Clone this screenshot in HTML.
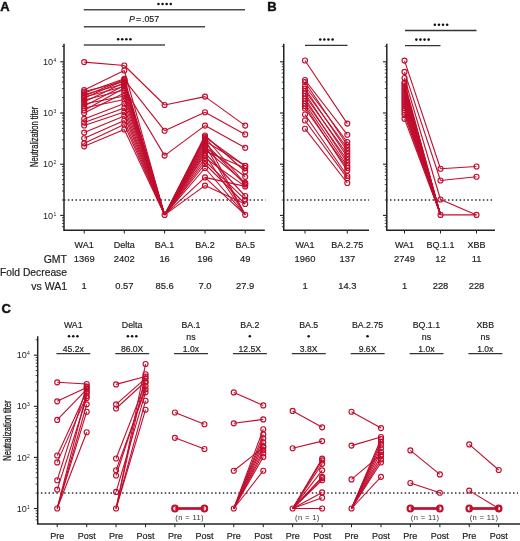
<!DOCTYPE html>
<html><head><meta charset="utf-8"><style>
html,body{margin:0;padding:0;background:#fff;overflow:hidden;width:520px;height:541px;}
svg{display:block;font-family:"Liberation Sans", sans-serif;will-change:transform;}
</style></head><body>
<svg width="520" height="541" viewBox="0 0 520 541">
<rect width="520" height="541" fill="#fff"/>
<text x="0.3" y="11.1" font-size="13" text-anchor="start" font-weight="bold" fill="#111" stroke="#111" stroke-width="0.45">A</text>
<text x="267.3" y="11.3" font-size="13" text-anchor="start" font-weight="bold" fill="#111" stroke="#111" stroke-width="0.45">B</text>
<text x="1.5" y="312.6" font-size="13" text-anchor="start" font-weight="bold" fill="#111" stroke="#111" stroke-width="0.45">C</text>
<line x1="64" y1="43.75" x2="64" y2="230.3" stroke="#222" stroke-width="1.5"/>
<line x1="62.0" y1="226.76" x2="64" y2="226.76" stroke="#222" stroke-width="0.85"/>
<line x1="62.0" y1="223.33" x2="64" y2="223.33" stroke="#222" stroke-width="0.85"/>
<line x1="62.0" y1="220.36" x2="64" y2="220.36" stroke="#222" stroke-width="0.85"/>
<line x1="62.0" y1="217.74" x2="64" y2="217.74" stroke="#222" stroke-width="0.85"/>
<line x1="60.2" y1="215.40" x2="64" y2="215.40" stroke="#222" stroke-width="1.1"/>
<line x1="62.0" y1="199.99" x2="64" y2="199.99" stroke="#222" stroke-width="0.85"/>
<line x1="62.0" y1="190.97" x2="64" y2="190.97" stroke="#222" stroke-width="0.85"/>
<line x1="62.0" y1="184.57" x2="64" y2="184.57" stroke="#222" stroke-width="0.85"/>
<line x1="62.0" y1="179.61" x2="64" y2="179.61" stroke="#222" stroke-width="0.85"/>
<line x1="62.0" y1="175.56" x2="64" y2="175.56" stroke="#222" stroke-width="0.85"/>
<line x1="62.0" y1="172.13" x2="64" y2="172.13" stroke="#222" stroke-width="0.85"/>
<line x1="62.0" y1="169.16" x2="64" y2="169.16" stroke="#222" stroke-width="0.85"/>
<line x1="62.0" y1="166.54" x2="64" y2="166.54" stroke="#222" stroke-width="0.85"/>
<line x1="60.2" y1="164.20" x2="64" y2="164.20" stroke="#222" stroke-width="1.1"/>
<line x1="62.0" y1="148.79" x2="64" y2="148.79" stroke="#222" stroke-width="0.85"/>
<line x1="62.0" y1="139.77" x2="64" y2="139.77" stroke="#222" stroke-width="0.85"/>
<line x1="62.0" y1="133.37" x2="64" y2="133.37" stroke="#222" stroke-width="0.85"/>
<line x1="62.0" y1="128.41" x2="64" y2="128.41" stroke="#222" stroke-width="0.85"/>
<line x1="62.0" y1="124.36" x2="64" y2="124.36" stroke="#222" stroke-width="0.85"/>
<line x1="62.0" y1="120.93" x2="64" y2="120.93" stroke="#222" stroke-width="0.85"/>
<line x1="62.0" y1="117.96" x2="64" y2="117.96" stroke="#222" stroke-width="0.85"/>
<line x1="62.0" y1="115.34" x2="64" y2="115.34" stroke="#222" stroke-width="0.85"/>
<line x1="60.2" y1="113.00" x2="64" y2="113.00" stroke="#222" stroke-width="1.1"/>
<line x1="62.0" y1="97.59" x2="64" y2="97.59" stroke="#222" stroke-width="0.85"/>
<line x1="62.0" y1="88.57" x2="64" y2="88.57" stroke="#222" stroke-width="0.85"/>
<line x1="62.0" y1="82.17" x2="64" y2="82.17" stroke="#222" stroke-width="0.85"/>
<line x1="62.0" y1="77.21" x2="64" y2="77.21" stroke="#222" stroke-width="0.85"/>
<line x1="62.0" y1="73.16" x2="64" y2="73.16" stroke="#222" stroke-width="0.85"/>
<line x1="62.0" y1="69.73" x2="64" y2="69.73" stroke="#222" stroke-width="0.85"/>
<line x1="62.0" y1="66.76" x2="64" y2="66.76" stroke="#222" stroke-width="0.85"/>
<line x1="62.0" y1="64.14" x2="64" y2="64.14" stroke="#222" stroke-width="0.85"/>
<line x1="60.2" y1="61.80" x2="64" y2="61.80" stroke="#222" stroke-width="1.1"/>
<line x1="62.0" y1="46.39" x2="64" y2="46.39" stroke="#222" stroke-width="0.85"/>
<text x="53.2" y="218.50" font-size="9.1" text-anchor="end" fill="#222">10</text>
<text x="53.4" y="215.50" font-size="5" text-anchor="start" fill="#222">1</text>
<text x="53.2" y="167.30" font-size="9.1" text-anchor="end" fill="#222">10</text>
<text x="53.4" y="164.30" font-size="5" text-anchor="start" fill="#222">2</text>
<text x="53.2" y="116.10" font-size="9.1" text-anchor="end" fill="#222">10</text>
<text x="53.4" y="113.10" font-size="5" text-anchor="start" fill="#222">3</text>
<text x="53.2" y="64.90" font-size="9.1" text-anchor="end" fill="#222">10</text>
<text x="53.4" y="61.90" font-size="5" text-anchor="start" fill="#222">4</text>
<line x1="63.25" y1="230.3" x2="264.8" y2="230.3" stroke="#222" stroke-width="1.5"/>
<line x1="84.2" y1="230.3" x2="84.2" y2="233.5" stroke="#222" stroke-width="1"/>
<line x1="124.3" y1="230.3" x2="124.3" y2="233.5" stroke="#222" stroke-width="1"/>
<line x1="164.6" y1="230.3" x2="164.6" y2="233.5" stroke="#222" stroke-width="1"/>
<line x1="205.0" y1="230.3" x2="205.0" y2="233.5" stroke="#222" stroke-width="1"/>
<line x1="245.2" y1="230.3" x2="245.2" y2="233.5" stroke="#222" stroke-width="1"/>
<line x1="63.9" y1="199.98726422200417" x2="265.5" y2="199.98726422200417" stroke="#2a2a2a" stroke-width="1.5" stroke-dasharray="1.5 2.37"/>
<line x1="84.2" y1="62.1" x2="124.3" y2="65.5" stroke="#c00d2d" stroke-width="1.1"/>
<line x1="124.3" y1="65.5" x2="164.6" y2="105.0" stroke="#c00d2d" stroke-width="1.1"/>
<line x1="164.6" y1="105.0" x2="205.0" y2="96.6" stroke="#c00d2d" stroke-width="1.1"/>
<line x1="205.0" y1="96.6" x2="245.2" y2="125.6" stroke="#c00d2d" stroke-width="1.1"/>
<line x1="84.2" y1="90.0" x2="124.3" y2="70.5" stroke="#c00d2d" stroke-width="1.1"/>
<line x1="124.3" y1="70.5" x2="164.6" y2="214.9" stroke="#c00d2d" stroke-width="1.1"/>
<line x1="164.6" y1="214.9" x2="205.0" y2="137.0" stroke="#c00d2d" stroke-width="1.1"/>
<line x1="205.0" y1="137.0" x2="245.2" y2="166.0" stroke="#c00d2d" stroke-width="1.1"/>
<line x1="84.2" y1="91.5" x2="124.3" y2="81.5" stroke="#c00d2d" stroke-width="1.1"/>
<line x1="124.3" y1="81.5" x2="164.6" y2="214.9" stroke="#c00d2d" stroke-width="1.1"/>
<line x1="164.6" y1="214.9" x2="205.0" y2="135.5" stroke="#c00d2d" stroke-width="1.1"/>
<line x1="205.0" y1="135.5" x2="245.2" y2="171.5" stroke="#c00d2d" stroke-width="1.1"/>
<line x1="84.2" y1="93" x2="124.3" y2="78.7" stroke="#c00d2d" stroke-width="1.1"/>
<line x1="124.3" y1="78.7" x2="164.6" y2="214.9" stroke="#c00d2d" stroke-width="1.1"/>
<line x1="164.6" y1="214.9" x2="205.0" y2="137.5" stroke="#c00d2d" stroke-width="1.1"/>
<line x1="205.0" y1="137.5" x2="245.2" y2="183.5" stroke="#c00d2d" stroke-width="1.1"/>
<line x1="84.2" y1="94.5" x2="124.3" y2="84" stroke="#c00d2d" stroke-width="1.1"/>
<line x1="124.3" y1="84" x2="164.6" y2="214.9" stroke="#c00d2d" stroke-width="1.1"/>
<line x1="164.6" y1="214.9" x2="205.0" y2="139" stroke="#c00d2d" stroke-width="1.1"/>
<line x1="205.0" y1="139" x2="245.2" y2="214.8" stroke="#c00d2d" stroke-width="1.1"/>
<line x1="84.2" y1="96" x2="124.3" y2="79.6" stroke="#c00d2d" stroke-width="1.1"/>
<line x1="124.3" y1="79.6" x2="164.6" y2="130.7" stroke="#c00d2d" stroke-width="1.1"/>
<line x1="164.6" y1="130.7" x2="205.0" y2="112.2" stroke="#c00d2d" stroke-width="1.1"/>
<line x1="205.0" y1="112.2" x2="245.2" y2="134.4" stroke="#c00d2d" stroke-width="1.1"/>
<line x1="84.2" y1="97" x2="124.3" y2="86.5" stroke="#c00d2d" stroke-width="1.1"/>
<line x1="124.3" y1="86.5" x2="164.6" y2="214.9" stroke="#c00d2d" stroke-width="1.1"/>
<line x1="164.6" y1="214.9" x2="205.0" y2="141" stroke="#c00d2d" stroke-width="1.1"/>
<line x1="205.0" y1="141" x2="245.2" y2="165.7" stroke="#c00d2d" stroke-width="1.1"/>
<line x1="84.2" y1="98" x2="124.3" y2="80.5" stroke="#c00d2d" stroke-width="1.1"/>
<line x1="124.3" y1="80.5" x2="164.6" y2="214.9" stroke="#c00d2d" stroke-width="1.1"/>
<line x1="164.6" y1="214.9" x2="205.0" y2="143" stroke="#c00d2d" stroke-width="1.1"/>
<line x1="205.0" y1="143" x2="245.2" y2="184.6" stroke="#c00d2d" stroke-width="1.1"/>
<line x1="84.2" y1="100" x2="124.3" y2="90" stroke="#c00d2d" stroke-width="1.1"/>
<line x1="124.3" y1="90" x2="164.6" y2="214.9" stroke="#c00d2d" stroke-width="1.1"/>
<line x1="164.6" y1="214.9" x2="205.0" y2="145" stroke="#c00d2d" stroke-width="1.1"/>
<line x1="205.0" y1="145" x2="245.2" y2="214.8" stroke="#c00d2d" stroke-width="1.1"/>
<line x1="84.2" y1="102" x2="124.3" y2="82.5" stroke="#c00d2d" stroke-width="1.1"/>
<line x1="124.3" y1="82.5" x2="164.6" y2="214.9" stroke="#c00d2d" stroke-width="1.1"/>
<line x1="164.6" y1="214.9" x2="205.0" y2="147" stroke="#c00d2d" stroke-width="1.1"/>
<line x1="205.0" y1="147" x2="245.2" y2="176.8" stroke="#c00d2d" stroke-width="1.1"/>
<line x1="84.2" y1="104" x2="124.3" y2="96" stroke="#c00d2d" stroke-width="1.1"/>
<line x1="124.3" y1="96" x2="164.6" y2="214.9" stroke="#c00d2d" stroke-width="1.1"/>
<line x1="164.6" y1="214.9" x2="205.0" y2="149" stroke="#c00d2d" stroke-width="1.1"/>
<line x1="205.0" y1="149" x2="245.2" y2="182.9" stroke="#c00d2d" stroke-width="1.1"/>
<line x1="84.2" y1="106" x2="124.3" y2="85.5" stroke="#c00d2d" stroke-width="1.1"/>
<line x1="124.3" y1="85.5" x2="164.6" y2="214.9" stroke="#c00d2d" stroke-width="1.1"/>
<line x1="164.6" y1="214.9" x2="205.0" y2="151" stroke="#c00d2d" stroke-width="1.1"/>
<line x1="205.0" y1="151" x2="245.2" y2="168" stroke="#c00d2d" stroke-width="1.1"/>
<line x1="84.2" y1="108" x2="124.3" y2="99.5" stroke="#c00d2d" stroke-width="1.1"/>
<line x1="124.3" y1="99.5" x2="164.6" y2="214.9" stroke="#c00d2d" stroke-width="1.1"/>
<line x1="164.6" y1="214.9" x2="205.0" y2="153" stroke="#c00d2d" stroke-width="1.1"/>
<line x1="205.0" y1="153" x2="245.2" y2="196" stroke="#c00d2d" stroke-width="1.1"/>
<line x1="84.2" y1="110.5" x2="124.3" y2="88" stroke="#c00d2d" stroke-width="1.1"/>
<line x1="124.3" y1="88" x2="164.6" y2="155.6" stroke="#c00d2d" stroke-width="1.1"/>
<line x1="164.6" y1="155.6" x2="205.0" y2="125.6" stroke="#c00d2d" stroke-width="1.1"/>
<line x1="205.0" y1="125.6" x2="245.2" y2="147.8" stroke="#c00d2d" stroke-width="1.1"/>
<line x1="84.2" y1="113" x2="124.3" y2="93" stroke="#c00d2d" stroke-width="1.1"/>
<line x1="124.3" y1="93" x2="164.6" y2="214.9" stroke="#c00d2d" stroke-width="1.1"/>
<line x1="164.6" y1="214.9" x2="205.0" y2="155" stroke="#c00d2d" stroke-width="1.1"/>
<line x1="205.0" y1="155" x2="245.2" y2="214.8" stroke="#c00d2d" stroke-width="1.1"/>
<line x1="84.2" y1="118.9" x2="124.3" y2="103.6" stroke="#c00d2d" stroke-width="1.1"/>
<line x1="124.3" y1="103.6" x2="164.6" y2="214.9" stroke="#c00d2d" stroke-width="1.1"/>
<line x1="164.6" y1="214.9" x2="205.0" y2="158" stroke="#c00d2d" stroke-width="1.1"/>
<line x1="205.0" y1="158" x2="245.2" y2="186.4" stroke="#c00d2d" stroke-width="1.1"/>
<line x1="84.2" y1="122.4" x2="124.3" y2="108" stroke="#c00d2d" stroke-width="1.1"/>
<line x1="124.3" y1="108" x2="164.6" y2="214.9" stroke="#c00d2d" stroke-width="1.1"/>
<line x1="164.6" y1="214.9" x2="205.0" y2="161" stroke="#c00d2d" stroke-width="1.1"/>
<line x1="205.0" y1="161" x2="245.2" y2="199.6" stroke="#c00d2d" stroke-width="1.1"/>
<line x1="84.2" y1="125.5" x2="124.3" y2="112" stroke="#c00d2d" stroke-width="1.1"/>
<line x1="124.3" y1="112" x2="164.6" y2="214.9" stroke="#c00d2d" stroke-width="1.1"/>
<line x1="164.6" y1="214.9" x2="205.0" y2="164" stroke="#c00d2d" stroke-width="1.1"/>
<line x1="205.0" y1="164" x2="245.2" y2="204" stroke="#c00d2d" stroke-width="1.1"/>
<line x1="84.2" y1="132.6" x2="124.3" y2="116" stroke="#c00d2d" stroke-width="1.1"/>
<line x1="124.3" y1="116" x2="164.6" y2="214.9" stroke="#c00d2d" stroke-width="1.1"/>
<line x1="164.6" y1="214.9" x2="205.0" y2="168" stroke="#c00d2d" stroke-width="1.1"/>
<line x1="205.0" y1="168" x2="245.2" y2="214.8" stroke="#c00d2d" stroke-width="1.1"/>
<line x1="84.2" y1="138.2" x2="124.3" y2="120.5" stroke="#c00d2d" stroke-width="1.1"/>
<line x1="124.3" y1="120.5" x2="164.6" y2="214.9" stroke="#c00d2d" stroke-width="1.1"/>
<line x1="164.6" y1="214.9" x2="205.0" y2="177.4" stroke="#c00d2d" stroke-width="1.1"/>
<line x1="205.0" y1="177.4" x2="245.2" y2="186.4" stroke="#c00d2d" stroke-width="1.1"/>
<line x1="84.2" y1="143.3" x2="124.3" y2="124.5" stroke="#c00d2d" stroke-width="1.1"/>
<line x1="124.3" y1="124.5" x2="164.6" y2="214.9" stroke="#c00d2d" stroke-width="1.1"/>
<line x1="205.0" y1="177.4" x2="245.2" y2="214.8" stroke="#c00d2d" stroke-width="1.1"/>
<line x1="84.2" y1="146.3" x2="124.3" y2="129.5" stroke="#c00d2d" stroke-width="1.1"/>
<line x1="124.3" y1="129.5" x2="164.6" y2="214.9" stroke="#c00d2d" stroke-width="1.1"/>
<line x1="164.6" y1="214.9" x2="205.0" y2="185.6" stroke="#c00d2d" stroke-width="1.1"/>
<line x1="205.0" y1="185.6" x2="245.2" y2="204" stroke="#c00d2d" stroke-width="1.1"/>
<circle cx="84.2" cy="62.1" r="2.5" fill="none" stroke="#c00d2d" stroke-width="1.15"/>
<circle cx="124.3" cy="65.5" r="2.5" fill="none" stroke="#c00d2d" stroke-width="1.15"/>
<circle cx="164.6" cy="105.0" r="2.5" fill="none" stroke="#c00d2d" stroke-width="1.15"/>
<circle cx="205.0" cy="96.6" r="2.5" fill="none" stroke="#c00d2d" stroke-width="1.15"/>
<circle cx="245.2" cy="125.6" r="2.5" fill="none" stroke="#c00d2d" stroke-width="1.15"/>
<circle cx="84.2" cy="90.0" r="2.5" fill="none" stroke="#c00d2d" stroke-width="1.15"/>
<circle cx="124.3" cy="70.5" r="2.5" fill="none" stroke="#c00d2d" stroke-width="1.15"/>
<circle cx="164.6" cy="214.9" r="2.5" fill="none" stroke="#c00d2d" stroke-width="1.15"/>
<circle cx="205.0" cy="137.0" r="2.5" fill="none" stroke="#c00d2d" stroke-width="1.15"/>
<circle cx="245.2" cy="166.0" r="2.5" fill="none" stroke="#c00d2d" stroke-width="1.15"/>
<circle cx="84.2" cy="91.5" r="2.5" fill="none" stroke="#c00d2d" stroke-width="1.15"/>
<circle cx="124.3" cy="81.5" r="2.5" fill="none" stroke="#c00d2d" stroke-width="1.15"/>
<circle cx="205.0" cy="135.5" r="2.5" fill="none" stroke="#c00d2d" stroke-width="1.15"/>
<circle cx="245.2" cy="171.5" r="2.5" fill="none" stroke="#c00d2d" stroke-width="1.15"/>
<circle cx="84.2" cy="93" r="2.5" fill="none" stroke="#c00d2d" stroke-width="1.15"/>
<circle cx="124.3" cy="78.7" r="2.5" fill="none" stroke="#c00d2d" stroke-width="1.15"/>
<circle cx="205.0" cy="137.5" r="2.5" fill="none" stroke="#c00d2d" stroke-width="1.15"/>
<circle cx="245.2" cy="183.5" r="2.5" fill="none" stroke="#c00d2d" stroke-width="1.15"/>
<circle cx="84.2" cy="94.5" r="2.5" fill="none" stroke="#c00d2d" stroke-width="1.15"/>
<circle cx="124.3" cy="84" r="2.5" fill="none" stroke="#c00d2d" stroke-width="1.15"/>
<circle cx="205.0" cy="139" r="2.5" fill="none" stroke="#c00d2d" stroke-width="1.15"/>
<circle cx="245.2" cy="214.8" r="2.5" fill="none" stroke="#c00d2d" stroke-width="1.15"/>
<circle cx="84.2" cy="96" r="2.5" fill="none" stroke="#c00d2d" stroke-width="1.15"/>
<circle cx="124.3" cy="79.6" r="2.5" fill="none" stroke="#c00d2d" stroke-width="1.15"/>
<circle cx="164.6" cy="130.7" r="2.5" fill="none" stroke="#c00d2d" stroke-width="1.15"/>
<circle cx="205.0" cy="112.2" r="2.5" fill="none" stroke="#c00d2d" stroke-width="1.15"/>
<circle cx="245.2" cy="134.4" r="2.5" fill="none" stroke="#c00d2d" stroke-width="1.15"/>
<circle cx="84.2" cy="97" r="2.5" fill="none" stroke="#c00d2d" stroke-width="1.15"/>
<circle cx="124.3" cy="86.5" r="2.5" fill="none" stroke="#c00d2d" stroke-width="1.15"/>
<circle cx="205.0" cy="141" r="2.5" fill="none" stroke="#c00d2d" stroke-width="1.15"/>
<circle cx="245.2" cy="165.7" r="2.5" fill="none" stroke="#c00d2d" stroke-width="1.15"/>
<circle cx="84.2" cy="98" r="2.5" fill="none" stroke="#c00d2d" stroke-width="1.15"/>
<circle cx="124.3" cy="80.5" r="2.5" fill="none" stroke="#c00d2d" stroke-width="1.15"/>
<circle cx="205.0" cy="143" r="2.5" fill="none" stroke="#c00d2d" stroke-width="1.15"/>
<circle cx="245.2" cy="184.6" r="2.5" fill="none" stroke="#c00d2d" stroke-width="1.15"/>
<circle cx="84.2" cy="100" r="2.5" fill="none" stroke="#c00d2d" stroke-width="1.15"/>
<circle cx="124.3" cy="90" r="2.5" fill="none" stroke="#c00d2d" stroke-width="1.15"/>
<circle cx="205.0" cy="145" r="2.5" fill="none" stroke="#c00d2d" stroke-width="1.15"/>
<circle cx="84.2" cy="102" r="2.5" fill="none" stroke="#c00d2d" stroke-width="1.15"/>
<circle cx="124.3" cy="82.5" r="2.5" fill="none" stroke="#c00d2d" stroke-width="1.15"/>
<circle cx="205.0" cy="147" r="2.5" fill="none" stroke="#c00d2d" stroke-width="1.15"/>
<circle cx="245.2" cy="176.8" r="2.5" fill="none" stroke="#c00d2d" stroke-width="1.15"/>
<circle cx="84.2" cy="104" r="2.5" fill="none" stroke="#c00d2d" stroke-width="1.15"/>
<circle cx="124.3" cy="96" r="2.5" fill="none" stroke="#c00d2d" stroke-width="1.15"/>
<circle cx="205.0" cy="149" r="2.5" fill="none" stroke="#c00d2d" stroke-width="1.15"/>
<circle cx="245.2" cy="182.9" r="2.5" fill="none" stroke="#c00d2d" stroke-width="1.15"/>
<circle cx="84.2" cy="106" r="2.5" fill="none" stroke="#c00d2d" stroke-width="1.15"/>
<circle cx="124.3" cy="85.5" r="2.5" fill="none" stroke="#c00d2d" stroke-width="1.15"/>
<circle cx="205.0" cy="151" r="2.5" fill="none" stroke="#c00d2d" stroke-width="1.15"/>
<circle cx="245.2" cy="168" r="2.5" fill="none" stroke="#c00d2d" stroke-width="1.15"/>
<circle cx="84.2" cy="108" r="2.5" fill="none" stroke="#c00d2d" stroke-width="1.15"/>
<circle cx="124.3" cy="99.5" r="2.5" fill="none" stroke="#c00d2d" stroke-width="1.15"/>
<circle cx="205.0" cy="153" r="2.5" fill="none" stroke="#c00d2d" stroke-width="1.15"/>
<circle cx="245.2" cy="196" r="2.5" fill="none" stroke="#c00d2d" stroke-width="1.15"/>
<circle cx="84.2" cy="110.5" r="2.5" fill="none" stroke="#c00d2d" stroke-width="1.15"/>
<circle cx="124.3" cy="88" r="2.5" fill="none" stroke="#c00d2d" stroke-width="1.15"/>
<circle cx="164.6" cy="155.6" r="2.5" fill="none" stroke="#c00d2d" stroke-width="1.15"/>
<circle cx="205.0" cy="125.6" r="2.5" fill="none" stroke="#c00d2d" stroke-width="1.15"/>
<circle cx="245.2" cy="147.8" r="2.5" fill="none" stroke="#c00d2d" stroke-width="1.15"/>
<circle cx="84.2" cy="113" r="2.5" fill="none" stroke="#c00d2d" stroke-width="1.15"/>
<circle cx="124.3" cy="93" r="2.5" fill="none" stroke="#c00d2d" stroke-width="1.15"/>
<circle cx="205.0" cy="155" r="2.5" fill="none" stroke="#c00d2d" stroke-width="1.15"/>
<circle cx="84.2" cy="118.9" r="2.5" fill="none" stroke="#c00d2d" stroke-width="1.15"/>
<circle cx="124.3" cy="103.6" r="2.5" fill="none" stroke="#c00d2d" stroke-width="1.15"/>
<circle cx="205.0" cy="158" r="2.5" fill="none" stroke="#c00d2d" stroke-width="1.15"/>
<circle cx="245.2" cy="186.4" r="2.5" fill="none" stroke="#c00d2d" stroke-width="1.15"/>
<circle cx="84.2" cy="122.4" r="2.5" fill="none" stroke="#c00d2d" stroke-width="1.15"/>
<circle cx="124.3" cy="108" r="2.5" fill="none" stroke="#c00d2d" stroke-width="1.15"/>
<circle cx="205.0" cy="161" r="2.5" fill="none" stroke="#c00d2d" stroke-width="1.15"/>
<circle cx="245.2" cy="199.6" r="2.5" fill="none" stroke="#c00d2d" stroke-width="1.15"/>
<circle cx="84.2" cy="125.5" r="2.5" fill="none" stroke="#c00d2d" stroke-width="1.15"/>
<circle cx="124.3" cy="112" r="2.5" fill="none" stroke="#c00d2d" stroke-width="1.15"/>
<circle cx="205.0" cy="164" r="2.5" fill="none" stroke="#c00d2d" stroke-width="1.15"/>
<circle cx="245.2" cy="204" r="2.5" fill="none" stroke="#c00d2d" stroke-width="1.15"/>
<circle cx="84.2" cy="132.6" r="2.5" fill="none" stroke="#c00d2d" stroke-width="1.15"/>
<circle cx="124.3" cy="116" r="2.5" fill="none" stroke="#c00d2d" stroke-width="1.15"/>
<circle cx="205.0" cy="168" r="2.5" fill="none" stroke="#c00d2d" stroke-width="1.15"/>
<circle cx="84.2" cy="138.2" r="2.5" fill="none" stroke="#c00d2d" stroke-width="1.15"/>
<circle cx="124.3" cy="120.5" r="2.5" fill="none" stroke="#c00d2d" stroke-width="1.15"/>
<circle cx="205.0" cy="177.4" r="2.5" fill="none" stroke="#c00d2d" stroke-width="1.15"/>
<circle cx="84.2" cy="143.3" r="2.5" fill="none" stroke="#c00d2d" stroke-width="1.15"/>
<circle cx="124.3" cy="124.5" r="2.5" fill="none" stroke="#c00d2d" stroke-width="1.15"/>
<circle cx="84.2" cy="146.3" r="2.5" fill="none" stroke="#c00d2d" stroke-width="1.15"/>
<circle cx="124.3" cy="129.5" r="2.5" fill="none" stroke="#c00d2d" stroke-width="1.15"/>
<circle cx="205.0" cy="185.6" r="2.5" fill="none" stroke="#c00d2d" stroke-width="1.15"/>
<line x1="83.8" y1="9.8" x2="245" y2="9.8" stroke="#4a4a4a" stroke-width="1.5"/>
<circle cx="158.45" cy="4.0" r="1.28" fill="#111"/>
<circle cx="162.55" cy="4.0" r="1.28" fill="#111"/>
<circle cx="166.65" cy="4.0" r="1.28" fill="#111"/>
<circle cx="170.75" cy="4.0" r="1.28" fill="#111"/>
<line x1="83.8" y1="26.8" x2="205" y2="26.8" stroke="#4a4a4a" stroke-width="1.5"/>
<text x="144.1" y="21.8" font-size="8.8" text-anchor="middle" fill="#222" stroke="#222" stroke-width="0.15"><tspan font-style="italic">P</tspan><tspan dx="1">=</tspan><tspan dx="1">.057</tspan></text>
<line x1="83.8" y1="45.0" x2="165" y2="45.0" stroke="#4a4a4a" stroke-width="1.5"/>
<circle cx="118.15" cy="39.2" r="1.28" fill="#111"/>
<circle cx="122.25" cy="39.2" r="1.28" fill="#111"/>
<circle cx="126.35" cy="39.2" r="1.28" fill="#111"/>
<circle cx="130.45" cy="39.2" r="1.28" fill="#111"/>
<text transform="translate(37.6,136.9) rotate(-90) scale(0.712,1)" font-size="10.5" text-anchor="middle" fill="#222" stroke="#222" stroke-width="0.3">Neutralization titer</text>
<text x="84.2" y="248.4" font-size="9" text-anchor="middle" font-weight="normal" fill="#222" stroke="#222" stroke-width="0.18">WA1</text>
<text x="84.2" y="261.9" font-size="9.4" text-anchor="middle" font-weight="normal" fill="#222" stroke="#222" stroke-width="0.18">1369</text>
<text x="84.2" y="288.5" font-size="9.4" text-anchor="middle" font-weight="normal" fill="#222" stroke="#222" stroke-width="0.18">1</text>
<text x="124.3" y="248.4" font-size="9" text-anchor="middle" font-weight="normal" fill="#222" stroke="#222" stroke-width="0.18">Delta</text>
<text x="124.3" y="261.9" font-size="9.4" text-anchor="middle" font-weight="normal" fill="#222" stroke="#222" stroke-width="0.18">2402</text>
<text x="124.3" y="288.5" font-size="9.4" text-anchor="middle" font-weight="normal" fill="#222" stroke="#222" stroke-width="0.18">0.57</text>
<text x="164.6" y="248.4" font-size="9" text-anchor="middle" font-weight="normal" fill="#222" stroke="#222" stroke-width="0.18">BA.1</text>
<text x="164.6" y="261.9" font-size="9.4" text-anchor="middle" font-weight="normal" fill="#222" stroke="#222" stroke-width="0.18">16</text>
<text x="164.6" y="288.5" font-size="9.4" text-anchor="middle" font-weight="normal" fill="#222" stroke="#222" stroke-width="0.18">85.6</text>
<text x="205.0" y="248.4" font-size="9" text-anchor="middle" font-weight="normal" fill="#222" stroke="#222" stroke-width="0.18">BA.2</text>
<text x="205.0" y="261.9" font-size="9.4" text-anchor="middle" font-weight="normal" fill="#222" stroke="#222" stroke-width="0.18">196</text>
<text x="205.0" y="288.5" font-size="9.4" text-anchor="middle" font-weight="normal" fill="#222" stroke="#222" stroke-width="0.18">7.0</text>
<text x="245.2" y="248.4" font-size="9" text-anchor="middle" font-weight="normal" fill="#222" stroke="#222" stroke-width="0.18">BA.5</text>
<text x="245.2" y="261.9" font-size="9.4" text-anchor="middle" font-weight="normal" fill="#222" stroke="#222" stroke-width="0.18">49</text>
<text x="245.2" y="288.5" font-size="9.4" text-anchor="middle" font-weight="normal" fill="#222" stroke="#222" stroke-width="0.18">27.9</text>
<text x="67" y="262.7" font-size="10.5" text-anchor="end" font-weight="normal" fill="#222" stroke="#222" stroke-width="0.18">GMT</text>
<text x="67" y="275.9" font-size="10.3" text-anchor="end" font-weight="normal" fill="#222" stroke="#222" stroke-width="0.18">Fold Decrease</text>
<text x="67" y="289.5" font-size="10.5" text-anchor="end" font-weight="normal" fill="#222" stroke="#222" stroke-width="0.18">vs WA1</text>
<line x1="283.75" y1="43.75" x2="283.75" y2="230.3" stroke="#222" stroke-width="1.5"/>
<line x1="281.75" y1="226.76" x2="283.75" y2="226.76" stroke="#222" stroke-width="0.85"/>
<line x1="281.75" y1="223.33" x2="283.75" y2="223.33" stroke="#222" stroke-width="0.85"/>
<line x1="281.75" y1="220.36" x2="283.75" y2="220.36" stroke="#222" stroke-width="0.85"/>
<line x1="281.75" y1="217.74" x2="283.75" y2="217.74" stroke="#222" stroke-width="0.85"/>
<line x1="279.95" y1="215.40" x2="283.75" y2="215.40" stroke="#222" stroke-width="1.1"/>
<line x1="281.75" y1="199.99" x2="283.75" y2="199.99" stroke="#222" stroke-width="0.85"/>
<line x1="281.75" y1="190.97" x2="283.75" y2="190.97" stroke="#222" stroke-width="0.85"/>
<line x1="281.75" y1="184.57" x2="283.75" y2="184.57" stroke="#222" stroke-width="0.85"/>
<line x1="281.75" y1="179.61" x2="283.75" y2="179.61" stroke="#222" stroke-width="0.85"/>
<line x1="281.75" y1="175.56" x2="283.75" y2="175.56" stroke="#222" stroke-width="0.85"/>
<line x1="281.75" y1="172.13" x2="283.75" y2="172.13" stroke="#222" stroke-width="0.85"/>
<line x1="281.75" y1="169.16" x2="283.75" y2="169.16" stroke="#222" stroke-width="0.85"/>
<line x1="281.75" y1="166.54" x2="283.75" y2="166.54" stroke="#222" stroke-width="0.85"/>
<line x1="279.95" y1="164.20" x2="283.75" y2="164.20" stroke="#222" stroke-width="1.1"/>
<line x1="281.75" y1="148.79" x2="283.75" y2="148.79" stroke="#222" stroke-width="0.85"/>
<line x1="281.75" y1="139.77" x2="283.75" y2="139.77" stroke="#222" stroke-width="0.85"/>
<line x1="281.75" y1="133.37" x2="283.75" y2="133.37" stroke="#222" stroke-width="0.85"/>
<line x1="281.75" y1="128.41" x2="283.75" y2="128.41" stroke="#222" stroke-width="0.85"/>
<line x1="281.75" y1="124.36" x2="283.75" y2="124.36" stroke="#222" stroke-width="0.85"/>
<line x1="281.75" y1="120.93" x2="283.75" y2="120.93" stroke="#222" stroke-width="0.85"/>
<line x1="281.75" y1="117.96" x2="283.75" y2="117.96" stroke="#222" stroke-width="0.85"/>
<line x1="281.75" y1="115.34" x2="283.75" y2="115.34" stroke="#222" stroke-width="0.85"/>
<line x1="279.95" y1="113.00" x2="283.75" y2="113.00" stroke="#222" stroke-width="1.1"/>
<line x1="281.75" y1="97.59" x2="283.75" y2="97.59" stroke="#222" stroke-width="0.85"/>
<line x1="281.75" y1="88.57" x2="283.75" y2="88.57" stroke="#222" stroke-width="0.85"/>
<line x1="281.75" y1="82.17" x2="283.75" y2="82.17" stroke="#222" stroke-width="0.85"/>
<line x1="281.75" y1="77.21" x2="283.75" y2="77.21" stroke="#222" stroke-width="0.85"/>
<line x1="281.75" y1="73.16" x2="283.75" y2="73.16" stroke="#222" stroke-width="0.85"/>
<line x1="281.75" y1="69.73" x2="283.75" y2="69.73" stroke="#222" stroke-width="0.85"/>
<line x1="281.75" y1="66.76" x2="283.75" y2="66.76" stroke="#222" stroke-width="0.85"/>
<line x1="281.75" y1="64.14" x2="283.75" y2="64.14" stroke="#222" stroke-width="0.85"/>
<line x1="279.95" y1="61.80" x2="283.75" y2="61.80" stroke="#222" stroke-width="1.1"/>
<line x1="281.75" y1="46.39" x2="283.75" y2="46.39" stroke="#222" stroke-width="0.85"/>
<line x1="283.0" y1="230.3" x2="369" y2="230.3" stroke="#222" stroke-width="1.5"/>
<line x1="305.0" y1="230.3" x2="305.0" y2="233.5" stroke="#222" stroke-width="1"/>
<line x1="347.3" y1="230.3" x2="347.3" y2="233.5" stroke="#222" stroke-width="1"/>
<line x1="283.0" y1="199.98726422200417" x2="369" y2="199.98726422200417" stroke="#2a2a2a" stroke-width="1.5" stroke-dasharray="1.5 2.37"/>
<line x1="305.0" y1="60.5" x2="347.3" y2="123.6" stroke="#c00d2d" stroke-width="1.1"/>
<line x1="305.0" y1="80" x2="347.3" y2="134.7" stroke="#c00d2d" stroke-width="1.1"/>
<line x1="305.0" y1="82" x2="347.3" y2="145" stroke="#c00d2d" stroke-width="1.1"/>
<line x1="305.0" y1="86" x2="347.3" y2="142" stroke="#c00d2d" stroke-width="1.1"/>
<line x1="305.0" y1="88.5" x2="347.3" y2="151" stroke="#c00d2d" stroke-width="1.1"/>
<line x1="305.0" y1="91" x2="347.3" y2="148" stroke="#c00d2d" stroke-width="1.1"/>
<line x1="305.0" y1="93.5" x2="347.3" y2="157" stroke="#c00d2d" stroke-width="1.1"/>
<line x1="305.0" y1="96" x2="347.3" y2="154" stroke="#c00d2d" stroke-width="1.1"/>
<line x1="305.0" y1="98.5" x2="347.3" y2="163" stroke="#c00d2d" stroke-width="1.1"/>
<line x1="305.0" y1="101" x2="347.3" y2="160" stroke="#c00d2d" stroke-width="1.1"/>
<line x1="305.0" y1="103.5" x2="347.3" y2="166" stroke="#c00d2d" stroke-width="1.1"/>
<line x1="305.0" y1="106" x2="347.3" y2="170.6" stroke="#c00d2d" stroke-width="1.1"/>
<line x1="305.0" y1="108.5" x2="347.3" y2="168" stroke="#c00d2d" stroke-width="1.1"/>
<line x1="305.0" y1="114.5" x2="347.3" y2="176" stroke="#c00d2d" stroke-width="1.1"/>
<line x1="305.0" y1="120.5" x2="347.3" y2="178.2" stroke="#c00d2d" stroke-width="1.1"/>
<line x1="305.0" y1="128.7" x2="347.3" y2="183" stroke="#c00d2d" stroke-width="1.1"/>
<circle cx="305.0" cy="60.5" r="2.5" fill="none" stroke="#c00d2d" stroke-width="1.15"/>
<circle cx="347.3" cy="123.6" r="2.5" fill="none" stroke="#c00d2d" stroke-width="1.15"/>
<circle cx="305.0" cy="80" r="2.5" fill="none" stroke="#c00d2d" stroke-width="1.15"/>
<circle cx="347.3" cy="134.7" r="2.5" fill="none" stroke="#c00d2d" stroke-width="1.15"/>
<circle cx="305.0" cy="82" r="2.5" fill="none" stroke="#c00d2d" stroke-width="1.15"/>
<circle cx="347.3" cy="145" r="2.5" fill="none" stroke="#c00d2d" stroke-width="1.15"/>
<circle cx="305.0" cy="86" r="2.5" fill="none" stroke="#c00d2d" stroke-width="1.15"/>
<circle cx="347.3" cy="142" r="2.5" fill="none" stroke="#c00d2d" stroke-width="1.15"/>
<circle cx="305.0" cy="88.5" r="2.5" fill="none" stroke="#c00d2d" stroke-width="1.15"/>
<circle cx="347.3" cy="151" r="2.5" fill="none" stroke="#c00d2d" stroke-width="1.15"/>
<circle cx="305.0" cy="91" r="2.5" fill="none" stroke="#c00d2d" stroke-width="1.15"/>
<circle cx="347.3" cy="148" r="2.5" fill="none" stroke="#c00d2d" stroke-width="1.15"/>
<circle cx="305.0" cy="93.5" r="2.5" fill="none" stroke="#c00d2d" stroke-width="1.15"/>
<circle cx="347.3" cy="157" r="2.5" fill="none" stroke="#c00d2d" stroke-width="1.15"/>
<circle cx="305.0" cy="96" r="2.5" fill="none" stroke="#c00d2d" stroke-width="1.15"/>
<circle cx="347.3" cy="154" r="2.5" fill="none" stroke="#c00d2d" stroke-width="1.15"/>
<circle cx="305.0" cy="98.5" r="2.5" fill="none" stroke="#c00d2d" stroke-width="1.15"/>
<circle cx="347.3" cy="163" r="2.5" fill="none" stroke="#c00d2d" stroke-width="1.15"/>
<circle cx="305.0" cy="101" r="2.5" fill="none" stroke="#c00d2d" stroke-width="1.15"/>
<circle cx="347.3" cy="160" r="2.5" fill="none" stroke="#c00d2d" stroke-width="1.15"/>
<circle cx="305.0" cy="103.5" r="2.5" fill="none" stroke="#c00d2d" stroke-width="1.15"/>
<circle cx="347.3" cy="166" r="2.5" fill="none" stroke="#c00d2d" stroke-width="1.15"/>
<circle cx="305.0" cy="106" r="2.5" fill="none" stroke="#c00d2d" stroke-width="1.15"/>
<circle cx="347.3" cy="170.6" r="2.5" fill="none" stroke="#c00d2d" stroke-width="1.15"/>
<circle cx="305.0" cy="108.5" r="2.5" fill="none" stroke="#c00d2d" stroke-width="1.15"/>
<circle cx="347.3" cy="168" r="2.5" fill="none" stroke="#c00d2d" stroke-width="1.15"/>
<circle cx="305.0" cy="114.5" r="2.5" fill="none" stroke="#c00d2d" stroke-width="1.15"/>
<circle cx="347.3" cy="176" r="2.5" fill="none" stroke="#c00d2d" stroke-width="1.15"/>
<circle cx="305.0" cy="120.5" r="2.5" fill="none" stroke="#c00d2d" stroke-width="1.15"/>
<circle cx="347.3" cy="178.2" r="2.5" fill="none" stroke="#c00d2d" stroke-width="1.15"/>
<circle cx="305.0" cy="128.7" r="2.5" fill="none" stroke="#c00d2d" stroke-width="1.15"/>
<circle cx="347.3" cy="183" r="2.5" fill="none" stroke="#c00d2d" stroke-width="1.15"/>
<line x1="305" y1="45.4" x2="347.5" y2="45.4" stroke="#333" stroke-width="1.4"/>
<circle cx="320.25" cy="39.5" r="1.28" fill="#111"/>
<circle cx="324.35" cy="39.5" r="1.28" fill="#111"/>
<circle cx="328.45" cy="39.5" r="1.28" fill="#111"/>
<circle cx="332.55" cy="39.5" r="1.28" fill="#111"/>
<line x1="386.8" y1="43.75" x2="386.8" y2="230.3" stroke="#222" stroke-width="1.5"/>
<line x1="384.8" y1="226.76" x2="386.8" y2="226.76" stroke="#222" stroke-width="0.85"/>
<line x1="384.8" y1="223.33" x2="386.8" y2="223.33" stroke="#222" stroke-width="0.85"/>
<line x1="384.8" y1="220.36" x2="386.8" y2="220.36" stroke="#222" stroke-width="0.85"/>
<line x1="384.8" y1="217.74" x2="386.8" y2="217.74" stroke="#222" stroke-width="0.85"/>
<line x1="383.0" y1="215.40" x2="386.8" y2="215.40" stroke="#222" stroke-width="1.1"/>
<line x1="384.8" y1="199.99" x2="386.8" y2="199.99" stroke="#222" stroke-width="0.85"/>
<line x1="384.8" y1="190.97" x2="386.8" y2="190.97" stroke="#222" stroke-width="0.85"/>
<line x1="384.8" y1="184.57" x2="386.8" y2="184.57" stroke="#222" stroke-width="0.85"/>
<line x1="384.8" y1="179.61" x2="386.8" y2="179.61" stroke="#222" stroke-width="0.85"/>
<line x1="384.8" y1="175.56" x2="386.8" y2="175.56" stroke="#222" stroke-width="0.85"/>
<line x1="384.8" y1="172.13" x2="386.8" y2="172.13" stroke="#222" stroke-width="0.85"/>
<line x1="384.8" y1="169.16" x2="386.8" y2="169.16" stroke="#222" stroke-width="0.85"/>
<line x1="384.8" y1="166.54" x2="386.8" y2="166.54" stroke="#222" stroke-width="0.85"/>
<line x1="383.0" y1="164.20" x2="386.8" y2="164.20" stroke="#222" stroke-width="1.1"/>
<line x1="384.8" y1="148.79" x2="386.8" y2="148.79" stroke="#222" stroke-width="0.85"/>
<line x1="384.8" y1="139.77" x2="386.8" y2="139.77" stroke="#222" stroke-width="0.85"/>
<line x1="384.8" y1="133.37" x2="386.8" y2="133.37" stroke="#222" stroke-width="0.85"/>
<line x1="384.8" y1="128.41" x2="386.8" y2="128.41" stroke="#222" stroke-width="0.85"/>
<line x1="384.8" y1="124.36" x2="386.8" y2="124.36" stroke="#222" stroke-width="0.85"/>
<line x1="384.8" y1="120.93" x2="386.8" y2="120.93" stroke="#222" stroke-width="0.85"/>
<line x1="384.8" y1="117.96" x2="386.8" y2="117.96" stroke="#222" stroke-width="0.85"/>
<line x1="384.8" y1="115.34" x2="386.8" y2="115.34" stroke="#222" stroke-width="0.85"/>
<line x1="383.0" y1="113.00" x2="386.8" y2="113.00" stroke="#222" stroke-width="1.1"/>
<line x1="384.8" y1="97.59" x2="386.8" y2="97.59" stroke="#222" stroke-width="0.85"/>
<line x1="384.8" y1="88.57" x2="386.8" y2="88.57" stroke="#222" stroke-width="0.85"/>
<line x1="384.8" y1="82.17" x2="386.8" y2="82.17" stroke="#222" stroke-width="0.85"/>
<line x1="384.8" y1="77.21" x2="386.8" y2="77.21" stroke="#222" stroke-width="0.85"/>
<line x1="384.8" y1="73.16" x2="386.8" y2="73.16" stroke="#222" stroke-width="0.85"/>
<line x1="384.8" y1="69.73" x2="386.8" y2="69.73" stroke="#222" stroke-width="0.85"/>
<line x1="384.8" y1="66.76" x2="386.8" y2="66.76" stroke="#222" stroke-width="0.85"/>
<line x1="384.8" y1="64.14" x2="386.8" y2="64.14" stroke="#222" stroke-width="0.85"/>
<line x1="383.0" y1="61.80" x2="386.8" y2="61.80" stroke="#222" stroke-width="1.1"/>
<line x1="384.8" y1="46.39" x2="386.8" y2="46.39" stroke="#222" stroke-width="0.85"/>
<line x1="386.05" y1="230.3" x2="495" y2="230.3" stroke="#222" stroke-width="1.5"/>
<line x1="404.5" y1="230.3" x2="404.5" y2="233.5" stroke="#222" stroke-width="1"/>
<line x1="440.5" y1="230.3" x2="440.5" y2="233.5" stroke="#222" stroke-width="1"/>
<line x1="476.5" y1="230.3" x2="476.5" y2="233.5" stroke="#222" stroke-width="1"/>
<line x1="386.1" y1="199.98726422200417" x2="493" y2="199.98726422200417" stroke="#2a2a2a" stroke-width="1.5" stroke-dasharray="1.5 2.37"/>
<line x1="404.5" y1="60.6" x2="440.5" y2="168.75" stroke="#c00d2d" stroke-width="1.1"/>
<line x1="440.5" y1="168.75" x2="476.5" y2="166.5" stroke="#c00d2d" stroke-width="1.1"/>
<line x1="404.5" y1="71.9" x2="440.5" y2="180.5" stroke="#c00d2d" stroke-width="1.1"/>
<line x1="440.5" y1="180.5" x2="476.5" y2="176.75" stroke="#c00d2d" stroke-width="1.1"/>
<line x1="404.5" y1="78" x2="440.5" y2="199.5" stroke="#c00d2d" stroke-width="1.1"/>
<line x1="440.5" y1="199.5" x2="476.5" y2="214.9" stroke="#c00d2d" stroke-width="1.1"/>
<line x1="404.5" y1="82.5" x2="440.5" y2="214.9" stroke="#c00d2d" stroke-width="1.1"/>
<line x1="440.5" y1="214.9" x2="476.5" y2="214.9" stroke="#c00d2d" stroke-width="1.1"/>
<line x1="404.5" y1="84" x2="440.5" y2="214.9" stroke="#c00d2d" stroke-width="1.1"/>
<line x1="404.5" y1="86" x2="440.5" y2="214.9" stroke="#c00d2d" stroke-width="1.1"/>
<line x1="404.5" y1="88" x2="440.5" y2="214.9" stroke="#c00d2d" stroke-width="1.1"/>
<line x1="404.5" y1="90" x2="440.5" y2="214.9" stroke="#c00d2d" stroke-width="1.1"/>
<line x1="404.5" y1="92" x2="440.5" y2="214.9" stroke="#c00d2d" stroke-width="1.1"/>
<line x1="404.5" y1="94" x2="440.5" y2="214.9" stroke="#c00d2d" stroke-width="1.1"/>
<line x1="404.5" y1="96" x2="440.5" y2="214.9" stroke="#c00d2d" stroke-width="1.1"/>
<line x1="404.5" y1="98" x2="440.5" y2="214.9" stroke="#c00d2d" stroke-width="1.1"/>
<line x1="404.5" y1="100" x2="440.5" y2="214.9" stroke="#c00d2d" stroke-width="1.1"/>
<line x1="404.5" y1="102" x2="440.5" y2="214.9" stroke="#c00d2d" stroke-width="1.1"/>
<line x1="404.5" y1="104" x2="440.5" y2="214.9" stroke="#c00d2d" stroke-width="1.1"/>
<line x1="404.5" y1="106" x2="440.5" y2="214.9" stroke="#c00d2d" stroke-width="1.1"/>
<line x1="404.5" y1="108" x2="440.5" y2="214.9" stroke="#c00d2d" stroke-width="1.1"/>
<line x1="404.5" y1="110" x2="440.5" y2="214.9" stroke="#c00d2d" stroke-width="1.1"/>
<line x1="404.5" y1="112.5" x2="440.5" y2="214.9" stroke="#c00d2d" stroke-width="1.1"/>
<line x1="404.5" y1="115" x2="440.5" y2="214.9" stroke="#c00d2d" stroke-width="1.1"/>
<line x1="404.5" y1="118.7" x2="440.5" y2="214.9" stroke="#c00d2d" stroke-width="1.1"/>
<circle cx="404.5" cy="60.6" r="2.5" fill="none" stroke="#c00d2d" stroke-width="1.15"/>
<circle cx="440.5" cy="168.75" r="2.5" fill="none" stroke="#c00d2d" stroke-width="1.15"/>
<circle cx="476.5" cy="166.5" r="2.5" fill="none" stroke="#c00d2d" stroke-width="1.15"/>
<circle cx="404.5" cy="71.9" r="2.5" fill="none" stroke="#c00d2d" stroke-width="1.15"/>
<circle cx="440.5" cy="180.5" r="2.5" fill="none" stroke="#c00d2d" stroke-width="1.15"/>
<circle cx="476.5" cy="176.75" r="2.5" fill="none" stroke="#c00d2d" stroke-width="1.15"/>
<circle cx="404.5" cy="78" r="2.5" fill="none" stroke="#c00d2d" stroke-width="1.15"/>
<circle cx="440.5" cy="199.5" r="2.5" fill="none" stroke="#c00d2d" stroke-width="1.15"/>
<circle cx="476.5" cy="214.9" r="2.5" fill="none" stroke="#c00d2d" stroke-width="1.15"/>
<circle cx="404.5" cy="82.5" r="2.5" fill="none" stroke="#c00d2d" stroke-width="1.15"/>
<circle cx="440.5" cy="214.9" r="2.5" fill="none" stroke="#c00d2d" stroke-width="1.15"/>
<circle cx="404.5" cy="84" r="2.5" fill="none" stroke="#c00d2d" stroke-width="1.15"/>
<circle cx="404.5" cy="86" r="2.5" fill="none" stroke="#c00d2d" stroke-width="1.15"/>
<circle cx="404.5" cy="88" r="2.5" fill="none" stroke="#c00d2d" stroke-width="1.15"/>
<circle cx="404.5" cy="90" r="2.5" fill="none" stroke="#c00d2d" stroke-width="1.15"/>
<circle cx="404.5" cy="92" r="2.5" fill="none" stroke="#c00d2d" stroke-width="1.15"/>
<circle cx="404.5" cy="94" r="2.5" fill="none" stroke="#c00d2d" stroke-width="1.15"/>
<circle cx="404.5" cy="96" r="2.5" fill="none" stroke="#c00d2d" stroke-width="1.15"/>
<circle cx="404.5" cy="98" r="2.5" fill="none" stroke="#c00d2d" stroke-width="1.15"/>
<circle cx="404.5" cy="100" r="2.5" fill="none" stroke="#c00d2d" stroke-width="1.15"/>
<circle cx="404.5" cy="102" r="2.5" fill="none" stroke="#c00d2d" stroke-width="1.15"/>
<circle cx="404.5" cy="104" r="2.5" fill="none" stroke="#c00d2d" stroke-width="1.15"/>
<circle cx="404.5" cy="106" r="2.5" fill="none" stroke="#c00d2d" stroke-width="1.15"/>
<circle cx="404.5" cy="108" r="2.5" fill="none" stroke="#c00d2d" stroke-width="1.15"/>
<circle cx="404.5" cy="110" r="2.5" fill="none" stroke="#c00d2d" stroke-width="1.15"/>
<circle cx="404.5" cy="112.5" r="2.5" fill="none" stroke="#c00d2d" stroke-width="1.15"/>
<circle cx="404.5" cy="115" r="2.5" fill="none" stroke="#c00d2d" stroke-width="1.15"/>
<circle cx="404.5" cy="118.7" r="2.5" fill="none" stroke="#c00d2d" stroke-width="1.15"/>
<line x1="405" y1="45.6" x2="440.5" y2="45.6" stroke="#333" stroke-width="1.4"/>
<circle cx="416.35" cy="39.6" r="1.28" fill="#111"/>
<circle cx="420.45" cy="39.6" r="1.28" fill="#111"/>
<circle cx="424.55" cy="39.6" r="1.28" fill="#111"/>
<circle cx="428.65" cy="39.6" r="1.28" fill="#111"/>
<line x1="405" y1="30.5" x2="476.5" y2="30.5" stroke="#333" stroke-width="1.4"/>
<circle cx="434.85" cy="24.7" r="1.28" fill="#111"/>
<circle cx="438.95" cy="24.7" r="1.28" fill="#111"/>
<circle cx="443.05" cy="24.7" r="1.28" fill="#111"/>
<circle cx="447.15" cy="24.7" r="1.28" fill="#111"/>
<text x="305.0" y="248.4" font-size="9" text-anchor="middle" font-weight="normal" fill="#222" stroke="#222" stroke-width="0.18">WA1</text>
<text x="305.0" y="261.9" font-size="9.4" text-anchor="middle" font-weight="normal" fill="#222" stroke="#222" stroke-width="0.18">1960</text>
<text x="305.0" y="288.5" font-size="9.4" text-anchor="middle" font-weight="normal" fill="#222" stroke="#222" stroke-width="0.18">1</text>
<text x="347.3" y="248.4" font-size="9" text-anchor="middle" font-weight="normal" fill="#222" stroke="#222" stroke-width="0.18">BA.2.75</text>
<text x="347.3" y="261.9" font-size="9.4" text-anchor="middle" font-weight="normal" fill="#222" stroke="#222" stroke-width="0.18">137</text>
<text x="347.3" y="288.5" font-size="9.4" text-anchor="middle" font-weight="normal" fill="#222" stroke="#222" stroke-width="0.18">14.3</text>
<text x="404.5" y="248.4" font-size="9" text-anchor="middle" font-weight="normal" fill="#222" stroke="#222" stroke-width="0.18">WA1</text>
<text x="404.5" y="261.9" font-size="9.4" text-anchor="middle" font-weight="normal" fill="#222" stroke="#222" stroke-width="0.18">2749</text>
<text x="404.5" y="288.5" font-size="9.4" text-anchor="middle" font-weight="normal" fill="#222" stroke="#222" stroke-width="0.18">1</text>
<text x="440.5" y="248.4" font-size="9" text-anchor="middle" font-weight="normal" fill="#222" stroke="#222" stroke-width="0.18">BQ.1.1</text>
<text x="440.5" y="261.9" font-size="9.4" text-anchor="middle" font-weight="normal" fill="#222" stroke="#222" stroke-width="0.18">12</text>
<text x="440.5" y="288.5" font-size="9.4" text-anchor="middle" font-weight="normal" fill="#222" stroke="#222" stroke-width="0.18">228</text>
<text x="476.5" y="248.4" font-size="9" text-anchor="middle" font-weight="normal" fill="#222" stroke="#222" stroke-width="0.18">XBB</text>
<text x="476.5" y="261.9" font-size="9.4" text-anchor="middle" font-weight="normal" fill="#222" stroke="#222" stroke-width="0.18">11</text>
<text x="476.5" y="288.5" font-size="9.4" text-anchor="middle" font-weight="normal" fill="#222" stroke="#222" stroke-width="0.18">228</text>
<line x1="37.7" y1="336.25" x2="37.7" y2="524.0" stroke="#222" stroke-width="1.5"/>
<line x1="35.7" y1="519.84" x2="37.7" y2="519.84" stroke="#222" stroke-width="0.85"/>
<line x1="35.7" y1="516.42" x2="37.7" y2="516.42" stroke="#222" stroke-width="0.85"/>
<line x1="35.7" y1="513.45" x2="37.7" y2="513.45" stroke="#222" stroke-width="0.85"/>
<line x1="35.7" y1="510.84" x2="37.7" y2="510.84" stroke="#222" stroke-width="0.85"/>
<line x1="33.900000000000006" y1="508.50" x2="37.7" y2="508.50" stroke="#222" stroke-width="1.1"/>
<line x1="35.7" y1="493.12" x2="37.7" y2="493.12" stroke="#222" stroke-width="0.85"/>
<line x1="35.7" y1="484.12" x2="37.7" y2="484.12" stroke="#222" stroke-width="0.85"/>
<line x1="35.7" y1="477.73" x2="37.7" y2="477.73" stroke="#222" stroke-width="0.85"/>
<line x1="35.7" y1="472.78" x2="37.7" y2="472.78" stroke="#222" stroke-width="0.85"/>
<line x1="35.7" y1="468.74" x2="37.7" y2="468.74" stroke="#222" stroke-width="0.85"/>
<line x1="35.7" y1="465.32" x2="37.7" y2="465.32" stroke="#222" stroke-width="0.85"/>
<line x1="35.7" y1="462.35" x2="37.7" y2="462.35" stroke="#222" stroke-width="0.85"/>
<line x1="35.7" y1="459.74" x2="37.7" y2="459.74" stroke="#222" stroke-width="0.85"/>
<line x1="33.900000000000006" y1="457.40" x2="37.7" y2="457.40" stroke="#222" stroke-width="1.1"/>
<line x1="35.7" y1="442.02" x2="37.7" y2="442.02" stroke="#222" stroke-width="0.85"/>
<line x1="35.7" y1="433.02" x2="37.7" y2="433.02" stroke="#222" stroke-width="0.85"/>
<line x1="35.7" y1="426.63" x2="37.7" y2="426.63" stroke="#222" stroke-width="0.85"/>
<line x1="35.7" y1="421.68" x2="37.7" y2="421.68" stroke="#222" stroke-width="0.85"/>
<line x1="35.7" y1="417.64" x2="37.7" y2="417.64" stroke="#222" stroke-width="0.85"/>
<line x1="35.7" y1="414.22" x2="37.7" y2="414.22" stroke="#222" stroke-width="0.85"/>
<line x1="35.7" y1="411.25" x2="37.7" y2="411.25" stroke="#222" stroke-width="0.85"/>
<line x1="35.7" y1="408.64" x2="37.7" y2="408.64" stroke="#222" stroke-width="0.85"/>
<line x1="33.900000000000006" y1="406.30" x2="37.7" y2="406.30" stroke="#222" stroke-width="1.1"/>
<line x1="35.7" y1="390.92" x2="37.7" y2="390.92" stroke="#222" stroke-width="0.85"/>
<line x1="35.7" y1="381.92" x2="37.7" y2="381.92" stroke="#222" stroke-width="0.85"/>
<line x1="35.7" y1="375.53" x2="37.7" y2="375.53" stroke="#222" stroke-width="0.85"/>
<line x1="35.7" y1="370.58" x2="37.7" y2="370.58" stroke="#222" stroke-width="0.85"/>
<line x1="35.7" y1="366.54" x2="37.7" y2="366.54" stroke="#222" stroke-width="0.85"/>
<line x1="35.7" y1="363.12" x2="37.7" y2="363.12" stroke="#222" stroke-width="0.85"/>
<line x1="35.7" y1="360.15" x2="37.7" y2="360.15" stroke="#222" stroke-width="0.85"/>
<line x1="35.7" y1="357.54" x2="37.7" y2="357.54" stroke="#222" stroke-width="0.85"/>
<line x1="33.900000000000006" y1="355.20" x2="37.7" y2="355.20" stroke="#222" stroke-width="1.1"/>
<line x1="35.7" y1="339.82" x2="37.7" y2="339.82" stroke="#222" stroke-width="0.85"/>
<text x="26.900000000000002" y="511.60" font-size="9.1" text-anchor="end" fill="#222">10</text>
<text x="27.1" y="508.60" font-size="5" text-anchor="start" fill="#222">1</text>
<text x="26.900000000000002" y="460.50" font-size="9.1" text-anchor="end" fill="#222">10</text>
<text x="27.1" y="457.50" font-size="5" text-anchor="start" fill="#222">2</text>
<text x="26.900000000000002" y="409.40" font-size="9.1" text-anchor="end" fill="#222">10</text>
<text x="27.1" y="406.40" font-size="5" text-anchor="start" fill="#222">3</text>
<text x="26.900000000000002" y="358.30" font-size="9.1" text-anchor="end" fill="#222">10</text>
<text x="27.1" y="355.30" font-size="5" text-anchor="start" fill="#222">4</text>
<line x1="36.95" y1="524.0" x2="520" y2="524.0" stroke="#222" stroke-width="1.5"/>
<line x1="57.2" y1="524.0" x2="57.2" y2="527.2" stroke="#222" stroke-width="1"/>
<line x1="86.7" y1="524.0" x2="86.7" y2="527.2" stroke="#222" stroke-width="1"/>
<line x1="116.06" y1="524.0" x2="116.06" y2="527.2" stroke="#222" stroke-width="1"/>
<line x1="145.56" y1="524.0" x2="145.56" y2="527.2" stroke="#222" stroke-width="1"/>
<line x1="174.92000000000002" y1="524.0" x2="174.92000000000002" y2="527.2" stroke="#222" stroke-width="1"/>
<line x1="204.42000000000002" y1="524.0" x2="204.42000000000002" y2="527.2" stroke="#222" stroke-width="1"/>
<line x1="233.77999999999997" y1="524.0" x2="233.77999999999997" y2="527.2" stroke="#222" stroke-width="1"/>
<line x1="263.28" y1="524.0" x2="263.28" y2="527.2" stroke="#222" stroke-width="1"/>
<line x1="292.64" y1="524.0" x2="292.64" y2="527.2" stroke="#222" stroke-width="1"/>
<line x1="322.14" y1="524.0" x2="322.14" y2="527.2" stroke="#222" stroke-width="1"/>
<line x1="351.5" y1="524.0" x2="351.5" y2="527.2" stroke="#222" stroke-width="1"/>
<line x1="381.0" y1="524.0" x2="381.0" y2="527.2" stroke="#222" stroke-width="1"/>
<line x1="410.35999999999996" y1="524.0" x2="410.35999999999996" y2="527.2" stroke="#222" stroke-width="1"/>
<line x1="439.85999999999996" y1="524.0" x2="439.85999999999996" y2="527.2" stroke="#222" stroke-width="1"/>
<line x1="469.21999999999997" y1="524.0" x2="469.21999999999997" y2="527.2" stroke="#222" stroke-width="1"/>
<line x1="498.71999999999997" y1="524.0" x2="498.71999999999997" y2="527.2" stroke="#222" stroke-width="1"/>
<line x1="37.0" y1="493.11736722157053" x2="518" y2="493.11736722157053" stroke="#2a2a2a" stroke-width="1.5" stroke-dasharray="1.5 2.37"/>
<text transform="translate(10.9,430.6) rotate(-90) scale(0.712,1)" font-size="10.5" text-anchor="middle" fill="#222" stroke="#222" stroke-width="0.3">Neutralization titer</text>
<text x="57.2" y="538.5" font-size="9" text-anchor="middle" font-weight="normal" fill="#222" stroke="#222" stroke-width="0.18">Pre</text>
<text x="86.7" y="538.5" font-size="9" text-anchor="middle" font-weight="normal" fill="#222" stroke="#222" stroke-width="0.18">Post</text>
<text x="116.06" y="538.5" font-size="9" text-anchor="middle" font-weight="normal" fill="#222" stroke="#222" stroke-width="0.18">Pre</text>
<text x="145.56" y="538.5" font-size="9" text-anchor="middle" font-weight="normal" fill="#222" stroke="#222" stroke-width="0.18">Post</text>
<text x="174.92000000000002" y="538.5" font-size="9" text-anchor="middle" font-weight="normal" fill="#222" stroke="#222" stroke-width="0.18">Pre</text>
<text x="204.42000000000002" y="538.5" font-size="9" text-anchor="middle" font-weight="normal" fill="#222" stroke="#222" stroke-width="0.18">Post</text>
<text x="233.77999999999997" y="538.5" font-size="9" text-anchor="middle" font-weight="normal" fill="#222" stroke="#222" stroke-width="0.18">Pre</text>
<text x="263.28" y="538.5" font-size="9" text-anchor="middle" font-weight="normal" fill="#222" stroke="#222" stroke-width="0.18">Post</text>
<text x="292.64" y="538.5" font-size="9" text-anchor="middle" font-weight="normal" fill="#222" stroke="#222" stroke-width="0.18">Pre</text>
<text x="322.14" y="538.5" font-size="9" text-anchor="middle" font-weight="normal" fill="#222" stroke="#222" stroke-width="0.18">Post</text>
<text x="351.5" y="538.5" font-size="9" text-anchor="middle" font-weight="normal" fill="#222" stroke="#222" stroke-width="0.18">Pre</text>
<text x="381.0" y="538.5" font-size="9" text-anchor="middle" font-weight="normal" fill="#222" stroke="#222" stroke-width="0.18">Post</text>
<text x="410.35999999999996" y="538.5" font-size="9" text-anchor="middle" font-weight="normal" fill="#222" stroke="#222" stroke-width="0.18">Pre</text>
<text x="439.85999999999996" y="538.5" font-size="9" text-anchor="middle" font-weight="normal" fill="#222" stroke="#222" stroke-width="0.18">Post</text>
<text x="469.21999999999997" y="538.5" font-size="9" text-anchor="middle" font-weight="normal" fill="#222" stroke="#222" stroke-width="0.18">Pre</text>
<text x="498.71999999999997" y="538.5" font-size="9" text-anchor="middle" font-weight="normal" fill="#222" stroke="#222" stroke-width="0.18">Post</text>
<text x="73.25" y="327.6" font-size="8.8" text-anchor="middle" font-weight="normal" fill="#222" stroke="#222" stroke-width="0.18">WA1</text>
<circle cx="69.05" cy="336.3" r="1.28" fill="#111"/>
<circle cx="73.25" cy="336.3" r="1.28" fill="#111"/>
<circle cx="77.45" cy="336.3" r="1.28" fill="#111"/>
<text x="73.25" y="351.8" font-size="8.6" text-anchor="middle" font-weight="normal" fill="#222" stroke="#222" stroke-width="0.18">45.2x</text>
<line x1="56.40" y1="353.7" x2="90.30" y2="353.7" stroke="#333" stroke-width="1.3"/>
<text x="132.11" y="327.6" font-size="8.8" text-anchor="middle" font-weight="normal" fill="#222" stroke="#222" stroke-width="0.18">Delta</text>
<circle cx="127.91" cy="336.3" r="1.28" fill="#111"/>
<circle cx="132.11" cy="336.3" r="1.28" fill="#111"/>
<circle cx="136.31" cy="336.3" r="1.28" fill="#111"/>
<text x="132.11" y="351.8" font-size="8.6" text-anchor="middle" font-weight="normal" fill="#222" stroke="#222" stroke-width="0.18">86.0X</text>
<line x1="115.26" y1="353.7" x2="149.16" y2="353.7" stroke="#333" stroke-width="1.3"/>
<text x="190.97000000000003" y="327.6" font-size="8.8" text-anchor="middle" font-weight="normal" fill="#222" stroke="#222" stroke-width="0.18">BA.1</text>
<text x="190.97000000000003" y="339.5" font-size="8.8" text-anchor="middle" font-weight="normal" fill="#222" stroke="#222" stroke-width="0.18">ns</text>
<text x="190.97000000000003" y="351.8" font-size="8.6" text-anchor="middle" font-weight="normal" fill="#222" stroke="#222" stroke-width="0.18">1.0x</text>
<line x1="174.12" y1="353.7" x2="208.02" y2="353.7" stroke="#333" stroke-width="1.3"/>
<text x="249.82999999999998" y="327.6" font-size="8.8" text-anchor="middle" font-weight="normal" fill="#222" stroke="#222" stroke-width="0.18">BA.2</text>
<circle cx="249.83" cy="336.3" r="1.28" fill="#111"/>
<text x="249.82999999999998" y="351.8" font-size="8.6" text-anchor="middle" font-weight="normal" fill="#222" stroke="#222" stroke-width="0.18">12.5X</text>
<line x1="232.98" y1="353.7" x2="266.88" y2="353.7" stroke="#333" stroke-width="1.3"/>
<text x="308.69" y="327.6" font-size="8.8" text-anchor="middle" font-weight="normal" fill="#222" stroke="#222" stroke-width="0.18">BA.5</text>
<circle cx="308.69" cy="336.3" r="1.28" fill="#111"/>
<text x="308.69" y="351.8" font-size="8.6" text-anchor="middle" font-weight="normal" fill="#222" stroke="#222" stroke-width="0.18">3.8X</text>
<line x1="291.84" y1="353.7" x2="325.74" y2="353.7" stroke="#333" stroke-width="1.3"/>
<text x="367.55" y="327.6" font-size="8.8" text-anchor="middle" font-weight="normal" fill="#222" stroke="#222" stroke-width="0.18">BA.2.75</text>
<circle cx="367.55" cy="336.3" r="1.28" fill="#111"/>
<text x="367.55" y="351.8" font-size="8.6" text-anchor="middle" font-weight="normal" fill="#222" stroke="#222" stroke-width="0.18">9.6X</text>
<line x1="350.70" y1="353.7" x2="384.60" y2="353.7" stroke="#333" stroke-width="1.3"/>
<text x="426.40999999999997" y="327.6" font-size="8.8" text-anchor="middle" font-weight="normal" fill="#222" stroke="#222" stroke-width="0.18">BQ.1.1</text>
<text x="426.40999999999997" y="339.5" font-size="8.8" text-anchor="middle" font-weight="normal" fill="#222" stroke="#222" stroke-width="0.18">ns</text>
<text x="426.40999999999997" y="351.8" font-size="8.6" text-anchor="middle" font-weight="normal" fill="#222" stroke="#222" stroke-width="0.18">1.0x</text>
<line x1="409.56" y1="353.7" x2="443.46" y2="353.7" stroke="#333" stroke-width="1.3"/>
<text x="485.27" y="327.6" font-size="8.8" text-anchor="middle" font-weight="normal" fill="#222" stroke="#222" stroke-width="0.18">XBB</text>
<text x="485.27" y="339.5" font-size="8.8" text-anchor="middle" font-weight="normal" fill="#222" stroke="#222" stroke-width="0.18">ns</text>
<text x="485.27" y="351.8" font-size="8.6" text-anchor="middle" font-weight="normal" fill="#222" stroke="#222" stroke-width="0.18">1.0x</text>
<line x1="468.42" y1="353.7" x2="502.32" y2="353.7" stroke="#333" stroke-width="1.3"/>
<line x1="57.2" y1="382.3" x2="86.7" y2="384" stroke="#c00d2d" stroke-width="1.1"/>
<line x1="57.2" y1="401.3" x2="86.7" y2="387.5" stroke="#c00d2d" stroke-width="1.1"/>
<line x1="57.2" y1="419.9" x2="86.7" y2="389.4" stroke="#c00d2d" stroke-width="1.1"/>
<line x1="57.2" y1="455.5" x2="86.7" y2="391.4" stroke="#c00d2d" stroke-width="1.1"/>
<line x1="57.2" y1="462.4" x2="86.7" y2="395.9" stroke="#c00d2d" stroke-width="1.1"/>
<line x1="57.2" y1="480.2" x2="86.7" y2="386.6" stroke="#c00d2d" stroke-width="1.1"/>
<line x1="57.2" y1="489.6" x2="86.7" y2="398" stroke="#c00d2d" stroke-width="1.1"/>
<line x1="57.2" y1="508.5" x2="86.7" y2="404.3" stroke="#c00d2d" stroke-width="1.1"/>
<line x1="57.2" y1="508.5" x2="86.7" y2="411.7" stroke="#c00d2d" stroke-width="1.1"/>
<line x1="57.2" y1="508.5" x2="86.7" y2="432.2" stroke="#c00d2d" stroke-width="1.1"/>
<line x1="57.2" y1="508.5" x2="86.7" y2="393" stroke="#c00d2d" stroke-width="1.1"/>
<circle cx="57.2" cy="382.3" r="2.5" fill="none" stroke="#c00d2d" stroke-width="1.15"/>
<circle cx="86.7" cy="384" r="2.5" fill="none" stroke="#c00d2d" stroke-width="1.15"/>
<circle cx="57.2" cy="401.3" r="2.5" fill="none" stroke="#c00d2d" stroke-width="1.15"/>
<circle cx="86.7" cy="387.5" r="2.5" fill="none" stroke="#c00d2d" stroke-width="1.15"/>
<circle cx="57.2" cy="419.9" r="2.5" fill="none" stroke="#c00d2d" stroke-width="1.15"/>
<circle cx="86.7" cy="389.4" r="2.5" fill="none" stroke="#c00d2d" stroke-width="1.15"/>
<circle cx="57.2" cy="455.5" r="2.5" fill="none" stroke="#c00d2d" stroke-width="1.15"/>
<circle cx="86.7" cy="391.4" r="2.5" fill="none" stroke="#c00d2d" stroke-width="1.15"/>
<circle cx="57.2" cy="462.4" r="2.5" fill="none" stroke="#c00d2d" stroke-width="1.15"/>
<circle cx="86.7" cy="395.9" r="2.5" fill="none" stroke="#c00d2d" stroke-width="1.15"/>
<circle cx="57.2" cy="480.2" r="2.5" fill="none" stroke="#c00d2d" stroke-width="1.15"/>
<circle cx="86.7" cy="386.6" r="2.5" fill="none" stroke="#c00d2d" stroke-width="1.15"/>
<circle cx="57.2" cy="489.6" r="2.5" fill="none" stroke="#c00d2d" stroke-width="1.15"/>
<circle cx="86.7" cy="398" r="2.5" fill="none" stroke="#c00d2d" stroke-width="1.15"/>
<circle cx="57.2" cy="508.5" r="2.5" fill="none" stroke="#c00d2d" stroke-width="1.15"/>
<circle cx="86.7" cy="404.3" r="2.5" fill="none" stroke="#c00d2d" stroke-width="1.15"/>
<circle cx="86.7" cy="411.7" r="2.5" fill="none" stroke="#c00d2d" stroke-width="1.15"/>
<circle cx="86.7" cy="432.2" r="2.5" fill="none" stroke="#c00d2d" stroke-width="1.15"/>
<circle cx="86.7" cy="393" r="2.5" fill="none" stroke="#c00d2d" stroke-width="1.15"/>
<line x1="116.06" y1="384.4" x2="145.56" y2="376.5" stroke="#c00d2d" stroke-width="1.1"/>
<line x1="116.06" y1="404.3" x2="145.56" y2="378.4" stroke="#c00d2d" stroke-width="1.1"/>
<line x1="116.06" y1="408.5" x2="145.56" y2="381.5" stroke="#c00d2d" stroke-width="1.1"/>
<line x1="116.06" y1="458.5" x2="145.56" y2="382.6" stroke="#c00d2d" stroke-width="1.1"/>
<line x1="116.06" y1="470.2" x2="145.56" y2="389.3" stroke="#c00d2d" stroke-width="1.1"/>
<line x1="116.06" y1="475.5" x2="145.56" y2="386" stroke="#c00d2d" stroke-width="1.1"/>
<line x1="116.06" y1="491.9" x2="145.56" y2="392.3" stroke="#c00d2d" stroke-width="1.1"/>
<line x1="116.06" y1="508.5" x2="145.56" y2="364" stroke="#c00d2d" stroke-width="1.1"/>
<line x1="116.06" y1="508.5" x2="145.56" y2="374.2" stroke="#c00d2d" stroke-width="1.1"/>
<line x1="116.06" y1="508.5" x2="145.56" y2="400.7" stroke="#c00d2d" stroke-width="1.1"/>
<line x1="116.06" y1="508.5" x2="145.56" y2="409.7" stroke="#c00d2d" stroke-width="1.1"/>
<circle cx="116.06" cy="384.4" r="2.5" fill="none" stroke="#c00d2d" stroke-width="1.15"/>
<circle cx="145.56" cy="376.5" r="2.5" fill="none" stroke="#c00d2d" stroke-width="1.15"/>
<circle cx="116.06" cy="404.3" r="2.5" fill="none" stroke="#c00d2d" stroke-width="1.15"/>
<circle cx="145.56" cy="378.4" r="2.5" fill="none" stroke="#c00d2d" stroke-width="1.15"/>
<circle cx="116.06" cy="408.5" r="2.5" fill="none" stroke="#c00d2d" stroke-width="1.15"/>
<circle cx="145.56" cy="381.5" r="2.5" fill="none" stroke="#c00d2d" stroke-width="1.15"/>
<circle cx="116.06" cy="458.5" r="2.5" fill="none" stroke="#c00d2d" stroke-width="1.15"/>
<circle cx="145.56" cy="382.6" r="2.5" fill="none" stroke="#c00d2d" stroke-width="1.15"/>
<circle cx="116.06" cy="470.2" r="2.5" fill="none" stroke="#c00d2d" stroke-width="1.15"/>
<circle cx="145.56" cy="389.3" r="2.5" fill="none" stroke="#c00d2d" stroke-width="1.15"/>
<circle cx="116.06" cy="475.5" r="2.5" fill="none" stroke="#c00d2d" stroke-width="1.15"/>
<circle cx="145.56" cy="386" r="2.5" fill="none" stroke="#c00d2d" stroke-width="1.15"/>
<circle cx="116.06" cy="491.9" r="2.5" fill="none" stroke="#c00d2d" stroke-width="1.15"/>
<circle cx="145.56" cy="392.3" r="2.5" fill="none" stroke="#c00d2d" stroke-width="1.15"/>
<circle cx="116.06" cy="508.5" r="2.5" fill="none" stroke="#c00d2d" stroke-width="1.15"/>
<circle cx="145.56" cy="364" r="2.5" fill="none" stroke="#c00d2d" stroke-width="1.15"/>
<circle cx="145.56" cy="374.2" r="2.5" fill="none" stroke="#c00d2d" stroke-width="1.15"/>
<circle cx="145.56" cy="400.7" r="2.5" fill="none" stroke="#c00d2d" stroke-width="1.15"/>
<circle cx="145.56" cy="409.7" r="2.5" fill="none" stroke="#c00d2d" stroke-width="1.15"/>
<line x1="174.92" y1="412.5" x2="204.42" y2="424.2" stroke="#c00d2d" stroke-width="1.1"/>
<line x1="174.92" y1="437.8" x2="204.42" y2="449" stroke="#c00d2d" stroke-width="1.1"/>
<circle cx="174.92" cy="412.5" r="2.5" fill="none" stroke="#c00d2d" stroke-width="1.15"/>
<circle cx="204.42" cy="424.2" r="2.5" fill="none" stroke="#c00d2d" stroke-width="1.15"/>
<circle cx="174.92" cy="437.8" r="2.5" fill="none" stroke="#c00d2d" stroke-width="1.15"/>
<circle cx="204.42" cy="449" r="2.5" fill="none" stroke="#c00d2d" stroke-width="1.15"/>
<line x1="233.78" y1="392.4" x2="263.28" y2="405.4" stroke="#c00d2d" stroke-width="1.1"/>
<line x1="233.78" y1="423.3" x2="263.28" y2="419.4" stroke="#c00d2d" stroke-width="1.1"/>
<line x1="233.78" y1="470.7" x2="263.28" y2="447.4" stroke="#c00d2d" stroke-width="1.1"/>
<line x1="233.78" y1="508.5" x2="263.28" y2="429.2" stroke="#c00d2d" stroke-width="1.1"/>
<line x1="233.78" y1="508.5" x2="263.28" y2="434.4" stroke="#c00d2d" stroke-width="1.1"/>
<line x1="233.78" y1="508.5" x2="263.28" y2="438.3" stroke="#c00d2d" stroke-width="1.1"/>
<line x1="233.78" y1="508.5" x2="263.28" y2="442.2" stroke="#c00d2d" stroke-width="1.1"/>
<line x1="233.78" y1="508.5" x2="263.28" y2="446" stroke="#c00d2d" stroke-width="1.1"/>
<line x1="233.78" y1="508.5" x2="263.28" y2="450" stroke="#c00d2d" stroke-width="1.1"/>
<line x1="233.78" y1="508.5" x2="263.28" y2="453.3" stroke="#c00d2d" stroke-width="1.1"/>
<line x1="233.78" y1="508.5" x2="263.28" y2="457" stroke="#c00d2d" stroke-width="1.1"/>
<line x1="233.78" y1="508.5" x2="263.28" y2="470.7" stroke="#c00d2d" stroke-width="1.1"/>
<circle cx="233.78" cy="392.4" r="2.5" fill="none" stroke="#c00d2d" stroke-width="1.15"/>
<circle cx="263.28" cy="405.4" r="2.5" fill="none" stroke="#c00d2d" stroke-width="1.15"/>
<circle cx="233.78" cy="423.3" r="2.5" fill="none" stroke="#c00d2d" stroke-width="1.15"/>
<circle cx="263.28" cy="419.4" r="2.5" fill="none" stroke="#c00d2d" stroke-width="1.15"/>
<circle cx="233.78" cy="470.7" r="2.5" fill="none" stroke="#c00d2d" stroke-width="1.15"/>
<circle cx="263.28" cy="447.4" r="2.5" fill="none" stroke="#c00d2d" stroke-width="1.15"/>
<circle cx="233.78" cy="508.5" r="2.5" fill="none" stroke="#c00d2d" stroke-width="1.15"/>
<circle cx="263.28" cy="429.2" r="2.5" fill="none" stroke="#c00d2d" stroke-width="1.15"/>
<circle cx="263.28" cy="434.4" r="2.5" fill="none" stroke="#c00d2d" stroke-width="1.15"/>
<circle cx="263.28" cy="438.3" r="2.5" fill="none" stroke="#c00d2d" stroke-width="1.15"/>
<circle cx="263.28" cy="442.2" r="2.5" fill="none" stroke="#c00d2d" stroke-width="1.15"/>
<circle cx="263.28" cy="446" r="2.5" fill="none" stroke="#c00d2d" stroke-width="1.15"/>
<circle cx="263.28" cy="450" r="2.5" fill="none" stroke="#c00d2d" stroke-width="1.15"/>
<circle cx="263.28" cy="453.3" r="2.5" fill="none" stroke="#c00d2d" stroke-width="1.15"/>
<circle cx="263.28" cy="457" r="2.5" fill="none" stroke="#c00d2d" stroke-width="1.15"/>
<circle cx="263.28" cy="470.7" r="2.5" fill="none" stroke="#c00d2d" stroke-width="1.15"/>
<line x1="292.64" y1="410.9" x2="322.14" y2="427.3" stroke="#c00d2d" stroke-width="1.1"/>
<line x1="292.64" y1="448.2" x2="322.14" y2="441.1" stroke="#c00d2d" stroke-width="1.1"/>
<line x1="292.64" y1="508.5" x2="322.14" y2="458.6" stroke="#c00d2d" stroke-width="1.1"/>
<line x1="292.64" y1="508.5" x2="322.14" y2="460.4" stroke="#c00d2d" stroke-width="1.1"/>
<line x1="292.64" y1="508.5" x2="322.14" y2="463.8" stroke="#c00d2d" stroke-width="1.1"/>
<line x1="292.64" y1="508.5" x2="322.14" y2="470.3" stroke="#c00d2d" stroke-width="1.1"/>
<line x1="292.64" y1="508.5" x2="322.14" y2="476.8" stroke="#c00d2d" stroke-width="1.1"/>
<line x1="292.64" y1="508.5" x2="322.14" y2="478.1" stroke="#c00d2d" stroke-width="1.1"/>
<line x1="292.64" y1="508.5" x2="322.14" y2="480.2" stroke="#c00d2d" stroke-width="1.1"/>
<line x1="292.64" y1="508.5" x2="322.14" y2="492.4" stroke="#c00d2d" stroke-width="1.1"/>
<line x1="292.64" y1="508.5" x2="322.14" y2="497.7" stroke="#c00d2d" stroke-width="1.1"/>
<line x1="292.64" y1="508.5" x2="322.14" y2="508.5" stroke="#c00d2d" stroke-width="1.1"/>
<circle cx="292.64" cy="410.9" r="2.5" fill="none" stroke="#c00d2d" stroke-width="1.15"/>
<circle cx="322.14" cy="427.3" r="2.5" fill="none" stroke="#c00d2d" stroke-width="1.15"/>
<circle cx="292.64" cy="448.2" r="2.5" fill="none" stroke="#c00d2d" stroke-width="1.15"/>
<circle cx="322.14" cy="441.1" r="2.5" fill="none" stroke="#c00d2d" stroke-width="1.15"/>
<circle cx="292.64" cy="508.5" r="2.5" fill="none" stroke="#c00d2d" stroke-width="1.15"/>
<circle cx="322.14" cy="458.6" r="2.5" fill="none" stroke="#c00d2d" stroke-width="1.15"/>
<circle cx="322.14" cy="460.4" r="2.5" fill="none" stroke="#c00d2d" stroke-width="1.15"/>
<circle cx="322.14" cy="463.8" r="2.5" fill="none" stroke="#c00d2d" stroke-width="1.15"/>
<circle cx="322.14" cy="470.3" r="2.5" fill="none" stroke="#c00d2d" stroke-width="1.15"/>
<circle cx="322.14" cy="476.8" r="2.5" fill="none" stroke="#c00d2d" stroke-width="1.15"/>
<circle cx="322.14" cy="478.1" r="2.5" fill="none" stroke="#c00d2d" stroke-width="1.15"/>
<circle cx="322.14" cy="480.2" r="2.5" fill="none" stroke="#c00d2d" stroke-width="1.15"/>
<circle cx="322.14" cy="492.4" r="2.5" fill="none" stroke="#c00d2d" stroke-width="1.15"/>
<circle cx="322.14" cy="497.7" r="2.5" fill="none" stroke="#c00d2d" stroke-width="1.15"/>
<circle cx="322.14" cy="508.5" r="2.5" fill="none" stroke="#c00d2d" stroke-width="1.15"/>
<line x1="351.5" y1="411.7" x2="381.0" y2="428.1" stroke="#c00d2d" stroke-width="1.1"/>
<line x1="351.5" y1="445.6" x2="381.0" y2="437" stroke="#c00d2d" stroke-width="1.1"/>
<line x1="351.5" y1="479.4" x2="381.0" y2="454.7" stroke="#c00d2d" stroke-width="1.1"/>
<line x1="351.5" y1="508.5" x2="381.0" y2="439" stroke="#c00d2d" stroke-width="1.1"/>
<line x1="351.5" y1="508.5" x2="381.0" y2="441.7" stroke="#c00d2d" stroke-width="1.1"/>
<line x1="351.5" y1="508.5" x2="381.0" y2="444.8" stroke="#c00d2d" stroke-width="1.1"/>
<line x1="351.5" y1="508.5" x2="381.0" y2="448.2" stroke="#c00d2d" stroke-width="1.1"/>
<line x1="351.5" y1="508.5" x2="381.0" y2="452" stroke="#c00d2d" stroke-width="1.1"/>
<line x1="351.5" y1="508.5" x2="381.0" y2="456" stroke="#c00d2d" stroke-width="1.1"/>
<line x1="351.5" y1="508.5" x2="381.0" y2="459.4" stroke="#c00d2d" stroke-width="1.1"/>
<line x1="351.5" y1="508.5" x2="381.0" y2="462.5" stroke="#c00d2d" stroke-width="1.1"/>
<line x1="351.5" y1="508.5" x2="381.0" y2="476.8" stroke="#c00d2d" stroke-width="1.1"/>
<circle cx="351.5" cy="411.7" r="2.5" fill="none" stroke="#c00d2d" stroke-width="1.15"/>
<circle cx="381.0" cy="428.1" r="2.5" fill="none" stroke="#c00d2d" stroke-width="1.15"/>
<circle cx="351.5" cy="445.6" r="2.5" fill="none" stroke="#c00d2d" stroke-width="1.15"/>
<circle cx="381.0" cy="437" r="2.5" fill="none" stroke="#c00d2d" stroke-width="1.15"/>
<circle cx="351.5" cy="479.4" r="2.5" fill="none" stroke="#c00d2d" stroke-width="1.15"/>
<circle cx="381.0" cy="454.7" r="2.5" fill="none" stroke="#c00d2d" stroke-width="1.15"/>
<circle cx="351.5" cy="508.5" r="2.5" fill="none" stroke="#c00d2d" stroke-width="1.15"/>
<circle cx="381.0" cy="439" r="2.5" fill="none" stroke="#c00d2d" stroke-width="1.15"/>
<circle cx="381.0" cy="441.7" r="2.5" fill="none" stroke="#c00d2d" stroke-width="1.15"/>
<circle cx="381.0" cy="444.8" r="2.5" fill="none" stroke="#c00d2d" stroke-width="1.15"/>
<circle cx="381.0" cy="448.2" r="2.5" fill="none" stroke="#c00d2d" stroke-width="1.15"/>
<circle cx="381.0" cy="452" r="2.5" fill="none" stroke="#c00d2d" stroke-width="1.15"/>
<circle cx="381.0" cy="456" r="2.5" fill="none" stroke="#c00d2d" stroke-width="1.15"/>
<circle cx="381.0" cy="459.4" r="2.5" fill="none" stroke="#c00d2d" stroke-width="1.15"/>
<circle cx="381.0" cy="462.5" r="2.5" fill="none" stroke="#c00d2d" stroke-width="1.15"/>
<circle cx="381.0" cy="476.8" r="2.5" fill="none" stroke="#c00d2d" stroke-width="1.15"/>
<line x1="410.36" y1="450.4" x2="439.86" y2="474.4" stroke="#c00d2d" stroke-width="1.1"/>
<line x1="410.36" y1="483" x2="439.86" y2="492.7" stroke="#c00d2d" stroke-width="1.1"/>
<circle cx="410.36" cy="450.4" r="2.5" fill="none" stroke="#c00d2d" stroke-width="1.15"/>
<circle cx="439.86" cy="474.4" r="2.5" fill="none" stroke="#c00d2d" stroke-width="1.15"/>
<circle cx="410.36" cy="483" r="2.5" fill="none" stroke="#c00d2d" stroke-width="1.15"/>
<circle cx="439.86" cy="492.7" r="2.5" fill="none" stroke="#c00d2d" stroke-width="1.15"/>
<line x1="469.22" y1="444.4" x2="498.72" y2="470" stroke="#c00d2d" stroke-width="1.1"/>
<line x1="469.22" y1="490.6" x2="498.72" y2="508.5" stroke="#c00d2d" stroke-width="1.1"/>
<circle cx="469.22" cy="444.4" r="2.5" fill="none" stroke="#c00d2d" stroke-width="1.15"/>
<circle cx="498.72" cy="470" r="2.5" fill="none" stroke="#c00d2d" stroke-width="1.15"/>
<circle cx="469.22" cy="490.6" r="2.5" fill="none" stroke="#c00d2d" stroke-width="1.15"/>
<circle cx="498.72" cy="508.5" r="2.5" fill="none" stroke="#c00d2d" stroke-width="1.15"/>
<line x1="174.92000000000002" y1="508.5" x2="204.42000000000002" y2="508.5" stroke="#c00d2d" stroke-width="2.7"/>
<ellipse cx="174.92000000000002" cy="508.5" rx="2.75" ry="3.0" fill="none" stroke="#c00d2d" stroke-width="2.1"/>
<circle cx="174.92000000000002" cy="508.5" r="0.8" fill="#f3b6c0"/>
<ellipse cx="204.42000000000002" cy="508.5" rx="2.75" ry="3.0" fill="none" stroke="#c00d2d" stroke-width="2.1"/>
<circle cx="204.42000000000002" cy="508.5" r="0.8" fill="#f3b6c0"/>
<text x="189.67" y="520.1" font-size="7.6" letter-spacing="0.35" text-anchor="middle" fill="#333">(n = 11)</text>
<line x1="410.35999999999996" y1="508.5" x2="439.85999999999996" y2="508.5" stroke="#c00d2d" stroke-width="2.7"/>
<ellipse cx="410.35999999999996" cy="508.5" rx="2.75" ry="3.0" fill="none" stroke="#c00d2d" stroke-width="2.1"/>
<circle cx="410.35999999999996" cy="508.5" r="0.8" fill="#f3b6c0"/>
<ellipse cx="439.85999999999996" cy="508.5" rx="2.75" ry="3.0" fill="none" stroke="#c00d2d" stroke-width="2.1"/>
<circle cx="439.85999999999996" cy="508.5" r="0.8" fill="#f3b6c0"/>
<text x="425.11" y="520.1" font-size="7.6" letter-spacing="0.35" text-anchor="middle" fill="#333">(n = 11)</text>
<line x1="469.21999999999997" y1="508.5" x2="498.71999999999997" y2="508.5" stroke="#c00d2d" stroke-width="2.7"/>
<ellipse cx="469.21999999999997" cy="508.5" rx="2.75" ry="3.0" fill="none" stroke="#c00d2d" stroke-width="2.1"/>
<circle cx="469.21999999999997" cy="508.5" r="0.8" fill="#f3b6c0"/>
<ellipse cx="498.71999999999997" cy="508.5" rx="2.75" ry="3.0" fill="none" stroke="#c00d2d" stroke-width="2.1"/>
<circle cx="498.71999999999997" cy="508.5" r="0.8" fill="#f3b6c0"/>
<text x="483.97" y="520.1" font-size="7.6" letter-spacing="0.35" text-anchor="middle" fill="#333">(n = 11)</text>
<text x="307.39" y="520.1" font-size="7.6" letter-spacing="0.35" text-anchor="middle" fill="#333">(n = 1)</text>
</svg></body></html>
